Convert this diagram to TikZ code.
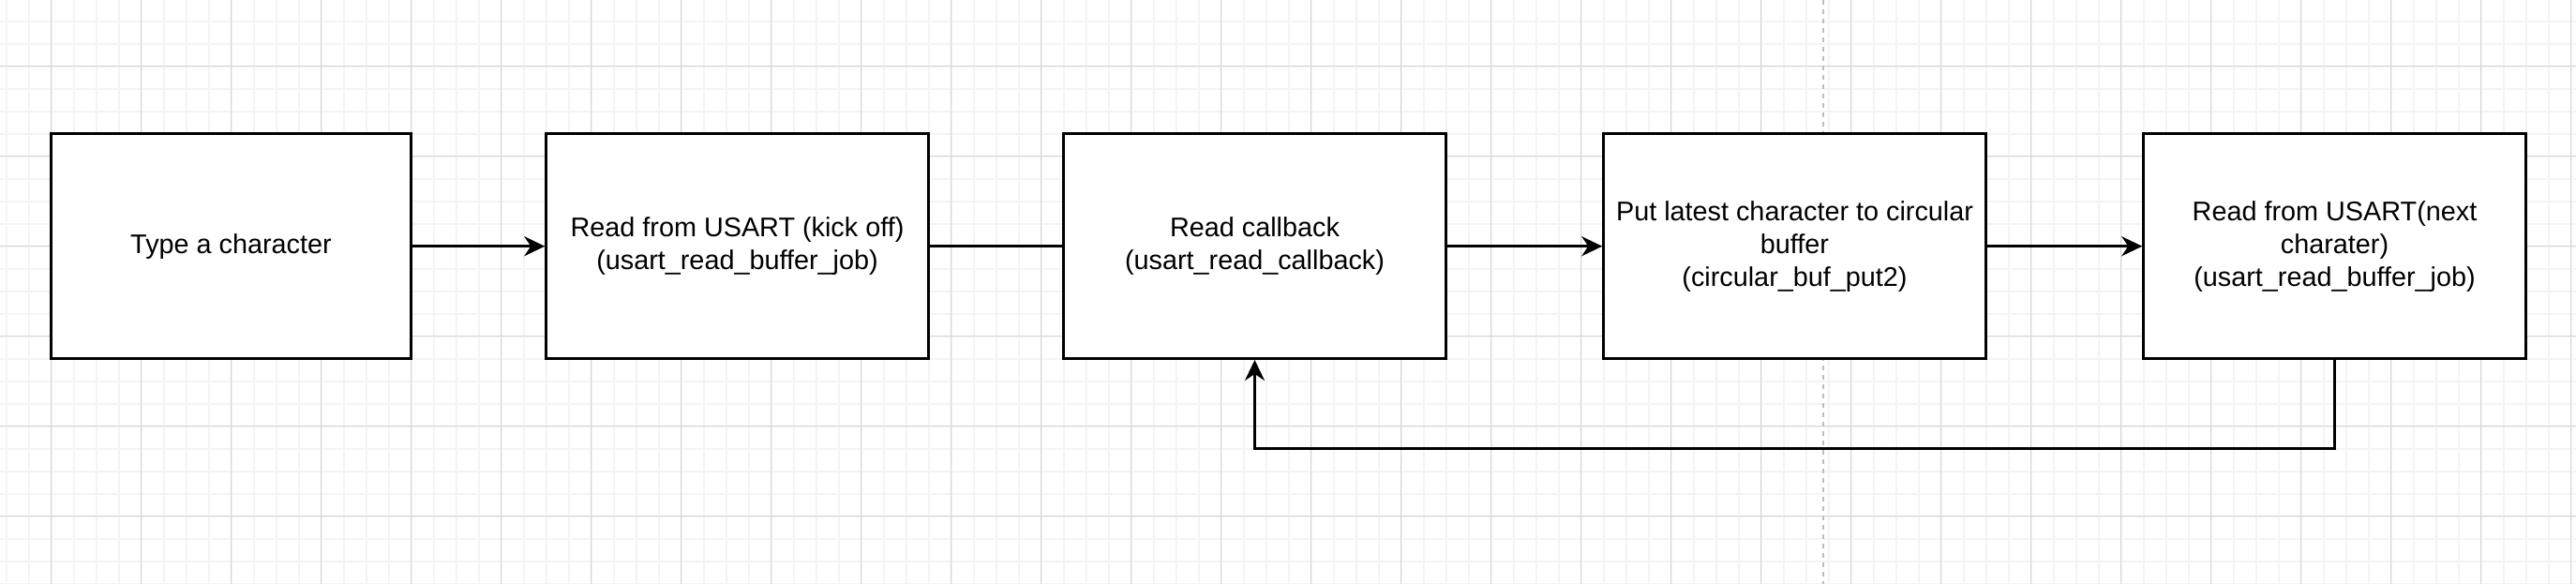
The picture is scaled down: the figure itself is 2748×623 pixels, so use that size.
\documentclass[tikz,border=0pt]{standalone}
\usepackage{fontspec}
\setmainfont{Liberation Sans}
\usetikzlibrary{arrows.meta}
\definecolor{gmajor}{HTML}{D4D4D4}
\definecolor{gminor}{HTML}{F4F4F4}
\definecolor{gdash}{HTML}{BDBDBD}
\begin{document}
\begin{tikzpicture}[x=1pt,y=-1pt,
  procbox/.style={draw=black, line width=2.5pt, fill=white, minimum height=240pt, align=center, inner sep=0pt, font=\fontsize{28.8}{35}\selectfont},
  flow/.style={draw=black, line width=2.5pt},
  tip/.style={-{Stealth[length=22pt,width=21pt,inset=7pt]}},
  minorgrid/.style={draw=gminor, line width=2pt},
  majorgrid/.style={draw=gmajor, line width=1.2pt}]
\useasboundingbox (0,0) rectangle (2748,623);
\fill[white] (0,0) rectangle (2748,623);
\foreach \k in {0,...,114} \draw[minorgrid] ({6.5+24*\k},0) -- ({6.5+24*\k},623);
\foreach \k in {0,...,25} \draw[minorgrid] (0,{22.7+24*\k}) -- (2748,{22.7+24*\k});
\foreach \k in {0,...,28} \draw[majorgrid] ({54.5+96*\k},0) -- ({54.5+96*\k},623);
\foreach \k in {0,...,5} \draw[majorgrid] (0,{70.7+96*\k}) -- (2748,{70.7+96*\k});
\draw[gdash, line width=1.5pt, dash pattern=on 5pt off 5pt] (1945,0) -- (1945,623);

\node[procbox, minimum width=384pt] (b1) at (246.5,262.7) {Type a character};
\node[procbox, minimum width=408pt] (b2) at (786.5,262.7) {Read from USART (kick off)\\(usart\_read\_buffer\_job)};
\node[procbox, minimum width=408pt] (b3) at (1338.5,262.7) {Read callback\\(usart\_read\_callback)};
\node[procbox, minimum width=408pt] (b4) at (1914.5,262.7) {Put latest character to circular\\buffer\\(circular\_buf\_put2)};
\node[procbox, minimum width=408pt] (b5) at (2490.5,262.7) {Read from USART(next\\charater)\\(usart\_read\_buffer\_job)};
\coordinate (fb) at (0,478.7);

\draw[flow,tip] (b1.east) -- (b2.west);
\draw[flow] (b2.east) -- (b3.west);
\draw[flow,tip] (b3.east) -- (b4.west);
\draw[flow,tip] (b4.east) -- (b5.west);
\draw[flow,tip] (b5.south) -- (b5.south |- fb) -| (b3.south);
\end{tikzpicture}
\end{document}
